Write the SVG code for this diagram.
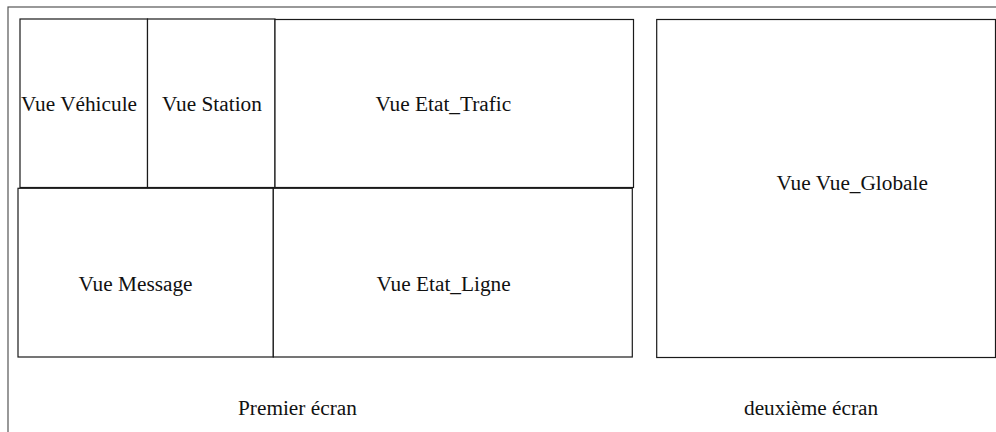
<svg xmlns="http://www.w3.org/2000/svg" width="996" height="432" viewBox="0 0 996 432">
<style>
.box{fill:#fff;stroke:#1a1a1a;stroke-width:1.2}
.frame{fill:none;stroke:#555;stroke-width:1.2}
.t{font-size:21.3px;fill:#111}
</style>
<rect width="996" height="432" fill="#fff"/>
<g id="frame"><rect class="frame" x="8" y="7" width="1000" height="440"/></g>
<g font-family="'Liberation Serif', 'Times New Roman', serif">
<g id="vue-vehicule"><rect class="box" x="20" y="19" width="127.5" height="168.5"/><text class="t" x="21" y="111">Vue Véhicule</text></g>
<g id="vue-station"><rect class="box" x="147.5" y="19" width="127.5" height="168.5"/><text class="t" x="162" y="111">Vue Station</text></g>
<g id="vue-etat-trafic"><rect class="box" x="275" y="19.5" width="358.5" height="168"/><text class="t" x="375.5" y="111">Vue Etat_Trafic</text></g>
<g id="vue-message"><rect class="box" x="18" y="188.3" width="255.3" height="168.7"/><text class="t" x="78.5" y="291">Vue Message</text></g>
<g id="vue-etat-ligne"><rect class="box" x="273.3" y="188.3" width="359" height="168.7"/><text class="t" x="376.5" y="291">Vue Etat_Ligne</text></g>
<g id="vue-globale"><rect class="box" x="656.7" y="19.5" width="338.8" height="338"/><text class="t" x="776.5" y="189.5">Vue Vue_Globale</text></g>
<g id="connectors"></g>
<g id="labels"><text class="t" x="238" y="415">Premier écran</text><text class="t" x="744" y="414.5">deuxième écran</text></g>
</g>
</svg>
